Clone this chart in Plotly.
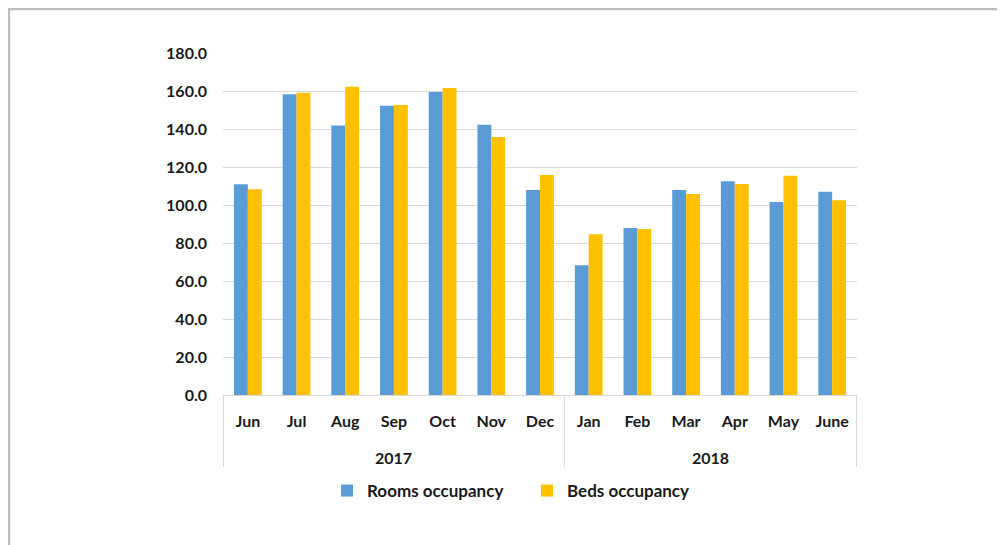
import plotly.graph_objects as go

years = ["2017"] * 7 + ["2018"] * 6
months = ["Jun", "Jul", "Aug", "Sep", "Oct", "Nov", "Dec",
          "Jan", "Feb", "Mar", "Apr", "May", "June"]
rooms = [110.9, 158.3, 141.9, 152.3, 159.5, 142.3, 107.9,
         68.3, 87.9, 107.9, 112.5, 101.6, 107.0]
beds = [108.3, 159.1, 162.3, 152.6, 161.6, 135.8, 115.8,
        84.6, 87.4, 105.8, 111.1, 115.4, 102.5]
y_ticks = [0, 20, 40, 60, 80, 100, 120, 140, 160, 180]

# page offset (default body margin of the html page)
OFF = 8
W, H = 1005, 545
L, T = 223 - OFF, 53 - OFF
R, B = W - (857 - OFF), H - (395 - OFF)
pw, ph = W - L - R, H - T - B


def px_x(s):
    return (s - OFF - L) / pw


def px_y(s):
    return (H - B - (s - OFF)) / ph


font_family = "Lato, 'Open Sans', Arial, sans-serif"
txt_col = "#1a1a1a"
grid_col = "#D9D9D9"

fig = go.Figure()
fig.add_trace(go.Bar(x=months, y=rooms, name="Rooms occupancy",
                     marker=dict(color="#5B9BD5", line=dict(width=0))))
fig.add_trace(go.Bar(x=months, y=beds, name="Beds occupancy",
                     marker=dict(color="#FFC000", line=dict(width=0))))

# year group labels and dividers, placed on the category axis
groups = []
for i, yr in enumerate(years):
    if not groups or groups[-1][0] != yr:
        groups.append([yr, i, i])
    else:
        groups[-1][2] = i

annotations = []
shapes = []
for yr, i0, i1 in groups:
    annotations.append(dict(x=(i0 + i1) / 2, y=px_y(457), xref="x", yref="paper",
                            text=yr, showarrow=False, yanchor="middle",
                            font=dict(family=font_family, size=16, color=txt_col,
                                      weight="bold")))
divs = [groups[0][1] - 0.5] + [g[2] + 0.5 for g in groups]
for d in divs:
    shapes.append(dict(type="line", xref="x", yref="paper", x0=d, x1=d,
                       y0=0, y1=px_y(467), line=dict(color=grid_col, width=1)))

# outer frame (top and left edges)
shapes.append(dict(type="line", xref="paper", yref="paper",
                   x0=px_x(5), x1=px_x(1020), y0=px_y(8.7), y1=px_y(8.7),
                   line=dict(color="#BDBDC2", width=3)))
shapes.append(dict(type="line", xref="paper", yref="paper",
                   x0=px_x(8.7), x1=px_x(8.7), y0=px_y(7), y1=px_y(560),
                   line=dict(color="#BDBDC2", width=3)))

fig.update_layout(
    width=W, height=H,
    margin=dict(l=L, r=R, t=T, b=B, autoexpand=False),
    paper_bgcolor="white", plot_bgcolor="white",
    barmode="group", bargap=0.43, bargroupgap=0,
    font=dict(family=font_family, size=16, color=txt_col),
    showlegend=True,
    legend=dict(orientation="h", x=px_x(327), xanchor="left",
                y=px_y(491), yanchor="middle",
                font=dict(family=font_family, size=17, color=txt_col,
                          weight="bold"),
                entrywidth=155, entrywidthmode="pixels",
                itemwidth=30, traceorder="normal"),
    xaxis=dict(type="category", showline=True, linecolor=grid_col,
               linewidth=1, showgrid=False, ticks="",
               ticklabelstandoff=12,
               tickfont=dict(family=font_family, size=16, color=txt_col,
                             weight="bold")),
    yaxis=dict(range=[0, 180], tickvals=y_ticks,
               ticktext=[f"{v:.1f}" for v in y_ticks],
               showgrid=True, gridcolor=grid_col, gridwidth=1,
               zeroline=False, showline=False, ticks="",
               ticklabelstandoff=15,
               tickfont=dict(family=font_family, size=16, color=txt_col,
                             weight="bold")),
    annotations=annotations,
    shapes=shapes,
)

fig.write_html("out.html")
